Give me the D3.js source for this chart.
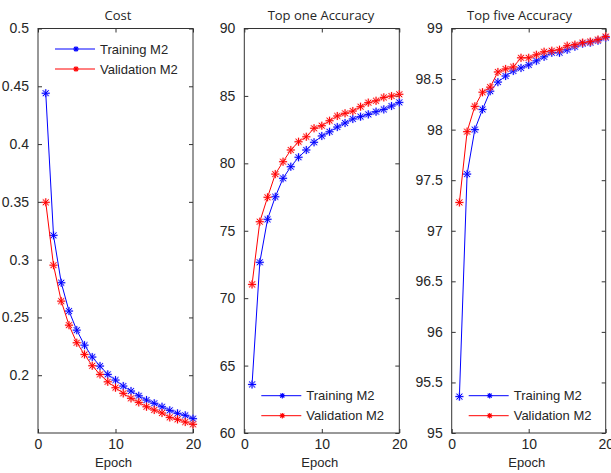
<!DOCTYPE html>
<html>
<head>
<meta charset="utf-8">
<script src="https://cdn.jsdelivr.net/npm/d3@7"></script>
<style>
  html, body { margin: 0; padding: 0; background: #fff; }
  svg { display: block; }
</style>
</head>
<body>
<svg id="chart" width="611" height="473"></svg>
<script>
// ---- data -------------------------------------------------------------
const epochs = d3.range(1, 21);

const costTraining = [0.444, 0.321, 0.280, 0.2555, 0.239, 0.226, 0.2157, 0.2079, 0.2007, 0.1958,
                      0.1906, 0.1863, 0.1822, 0.1785, 0.1757, 0.1727, 0.1696, 0.1670, 0.1653, 0.1624];
const costValidation = [0.3496, 0.2952, 0.2641, 0.2433, 0.2281, 0.2180, 0.2082, 0.2007, 0.1943, 0.1892,
                        0.1843, 0.1800, 0.1765, 0.1727, 0.1699, 0.1673, 0.1635, 0.1618, 0.1595, 0.1575];

const top1Training = [63.6, 72.66, 75.85, 77.52, 78.89, 79.75, 80.45, 80.99, 81.56, 82.03,
                      82.34, 82.69, 82.99, 83.29, 83.46, 83.63, 83.83, 84.00, 84.25, 84.52];
const top1Validation = [71.02, 75.67, 77.48, 79.20, 80.12, 80.99, 81.60, 81.97, 82.60, 82.79,
                        83.16, 83.51, 83.71, 83.88, 84.20, 84.50, 84.64, 84.89, 84.99, 85.12];

const top5Training = [95.36, 97.56, 98.00, 98.20, 98.38, 98.47, 98.53, 98.58, 98.61, 98.64,
                      98.68, 98.72, 98.76, 98.76, 98.79, 98.82, 98.85, 98.86, 98.88, 98.91];
const top5Validation = [97.28, 97.98, 98.23, 98.37, 98.42, 98.57, 98.60, 98.62, 98.71, 98.71,
                        98.74, 98.77, 98.78, 98.79, 98.83, 98.84, 98.86, 98.87, 98.89, 98.92];

const titles = ["Cost", "Top one Accuracy", "Top five Accuracy"];
const seriesNames = ["Training M2", "Validation M2"];
const xTicks = [0, 10, 20];
const costTicks = [0.2, 0.25, 0.3, 0.35, 0.4, 0.45, 0.5];
const top1Ticks = [60, 65, 70, 75, 80, 85, 90];
const top5Ticks = [95, 95.5, 96, 96.5, 97, 97.5, 98, 98.5, 99];
const yDomains = [[0.15, 0.5], [60, 90], [95, 99]];

// ---- layout -----------------------------------------------------------
const plotTop = 28.5, plotBottom = 433;
const panels = [
  { left: 38,    right: 193,   titleX: 118,   legendTop: 49,    series: [costTraining, costValidation], ticks: costTicks },
  { left: 244.3, right: 399.3, titleX: 321,   legendTop: 395.7, series: [top1Training, top1Validation], ticks: top1Ticks },
  { left: 451.7, right: 605.7, titleX: 519.5, legendTop: 395.7, series: [top5Training, top5Validation], ticks: top5Ticks }
];
const colors = ["#0000ff", "#ff0000"];
const haloColors = ["#9090ff", "#ff9090"];
const axisColor = "#333333";
const textColor = "#262626";
const tickFont = "'Liberation Sans', Arial, sans-serif";

const svg = d3.select("#chart");

// asterisk marker (plus + cross) centred at the origin
function asterisk(r) {
  const d = r * 0.72;
  return `M${-r},0H${r}M0,${-r}V${r}M${-d},${-d}L${d},${d}M${-d},${d}L${d},${-d}`;
}

function styleAxis(g, showLabels) {
  g.select(".domain").remove();
  g.selectAll(".tick line").attr("stroke", axisColor).attr("stroke-width", 1);
  g.selectAll(".tick text")
    .attr("fill", textColor)
    .style("font-family", tickFont)
    .style("font-size", "14px");
  if (!showLabels) g.selectAll(".tick text").remove();
}

panels.forEach((p, i) => {
  const x = d3.scaleLinear().domain([0, 20]).range([p.left, p.right]);
  const y = d3.scaleLinear().domain(yDomains[i]).range([plotBottom, plotTop]);
  const g = svg.append("g");

  // axes with inward ticks on all four sides
  g.append("g").attr("transform", `translate(0,${plotBottom})`)
    .call(d3.axisBottom(x).tickValues(xTicks).tickSize(-4).tickPadding(6).tickFormat(d3.format("d")))
    .call(a => styleAxis(a, true));
  g.append("g").attr("transform", `translate(0,${plotTop})`)
    .call(d3.axisTop(x).tickValues(xTicks).tickSize(-4))
    .call(a => styleAxis(a, false));
  g.append("g").attr("transform", `translate(${p.left},0)`)
    .call(d3.axisLeft(y).tickValues(p.ticks).tickSize(-4).tickPadding(9).tickFormat(v => String(+v.toFixed(2))))
    .call(a => styleAxis(a, true));
  g.append("g").attr("transform", `translate(${p.right},0)`)
    .call(d3.axisRight(y).tickValues(p.ticks).tickSize(-4))
    .call(a => styleAxis(a, false));

  // plot box
  g.append("rect")
    .attr("x", p.left).attr("y", plotTop)
    .attr("width", p.right - p.left).attr("height", plotBottom - plotTop)
    .attr("fill", "none").attr("stroke", axisColor).attr("stroke-width", 1);

  // series lines and markers
  p.series.forEach((vals, s) => {
    const pts = epochs.map((e, k) => [x(e), y(vals[k])]);
    g.append("path")
      .attr("d", d3.line()(pts))
      .attr("fill", "none").attr("stroke", colors[s]).attr("stroke-width", 1);
    const m = g.append("g");
    m.selectAll("path.halo").data(pts).join("path")
      .attr("class", "halo")
      .attr("transform", d => `translate(${d[0]},${d[1]})`)
      .attr("d", asterisk(4.3))
      .attr("fill", "none").attr("stroke", haloColors[s]).attr("stroke-width", 2).attr("opacity", 0.45);
    m.selectAll("path.mk").data(pts).join("path")
      .attr("class", "mk")
      .attr("transform", d => `translate(${d[0]},${d[1]})`)
      .attr("d", asterisk(4))
      .attr("fill", "none").attr("stroke", colors[s]).attr("stroke-width", 1);
  });

  // title
  g.append("text")
    .attr("x", p.titleX).attr("y", 19.5)
    .attr("text-anchor", "middle")
    .attr("fill", textColor)
    .style("font-family", "'Open Sans', sans-serif")
    .style("font-size", "13px")
    .text(titles[i]);

  // x-axis label
  g.append("text")
    .attr("x", (p.left + p.right) / 2 - 2).attr("y", 467)
    .attr("text-anchor", "middle")
    .attr("fill", textColor)
    .style("font-family", tickFont)
    .style("font-size", "13px")
    .text("Epoch");

  // legend
  const lx = p.left + 17;
  seriesNames.forEach((name, s) => {
    const ly = p.legendTop + s * 20;
    g.append("line")
      .attr("x1", lx).attr("x2", lx + 40).attr("y1", ly).attr("y2", ly)
      .attr("stroke", colors[s]).attr("stroke-width", 1);
    g.append("path")
      .attr("transform", `translate(${lx + 21},${ly})`)
      .attr("d", asterisk(2.8))
      .attr("fill", "none").attr("stroke", colors[s]).attr("stroke-width", 1.1);
    g.append("text")
      .attr("x", lx + 45).attr("y", ly)
      .attr("dy", "0.36em")
      .attr("fill", textColor)
      .style("font-family", tickFont)
      .style("font-size", "13px")
      .text(name);
  });
});
</script>
</body>
</html>
